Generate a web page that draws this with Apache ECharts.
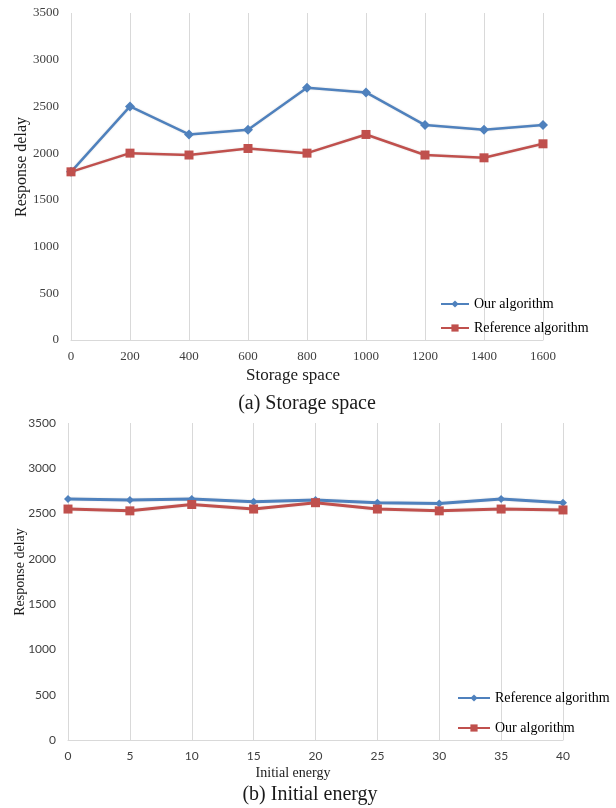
<!DOCTYPE html>
<html>
<head>
<meta charset="utf-8">
<script src="https://cdn.jsdelivr.net/npm/echarts@6/dist/echarts.min.js"></script>
<style>
  html, body { margin: 0; padding: 0; background: #fff; }
  #wrap { position: relative; width: 616px; height: 808px; }
  #chartA { position: absolute; left: 0; top: 0; width: 616px; height: 415px; }
  #chartB { position: absolute; left: 0; top: 415px; width: 616px; height: 393px; }
</style>
</head>
<body>
<div id="wrap">
  <div id="chartA"></div>
  <div id="chartB"></div>
</div>
<script>
// Panel (a): response delay versus storage space
const storageSpace = [0, 200, 400, 600, 800, 1000, 1200, 1400, 1600];
const ourDelayA = [1800, 2500, 2200, 2250, 2700, 2650, 2300, 2250, 2300];
const refDelayA = [1800, 2000, 1980, 2050, 2000, 2200, 1980, 1950, 2100];

// Panel (b): response delay versus initial energy
const initialEnergy = [0, 5, 10, 15, 20, 25, 30, 35, 40];
const refDelayB = [2660, 2650, 2660, 2630, 2650, 2620, 2610, 2660, 2620];
const ourDelayB = [2550, 2530, 2600, 2550, 2620, 2550, 2530, 2550, 2540];

const delayTicks = { min: 0, max: 3500, interval: 500 };

const BLUE = '#4F81BD';
const RED = '#C0504D';
const GRID = '#d9d9d9';
const SERIF = '"Liberation Serif", "Times New Roman", serif';
const SANS = 'Lato, "Liberation Sans", sans-serif';

// plain numbers, no thousands separators
const plain = v => String(v);

function pairs(xs, ys) { return xs.map((x, i) => [x, ys[i]]); }

function lineSeries(name, color, symbol, size, width, xs, ys) {
  return {
    type: 'line', name, data: pairs(xs, ys),
    symbol, symbolSize: size,
    itemStyle: { color },
    lineStyle: { color, width, shadowColor: 'rgba(0,0,0,0.15)', shadowBlur: 2 },
    emphasis: { disabled: true }, animation: false
  };
}

function axisText(text, x, y, size, rotate) {
  return {
    type: 'text', x, y, rotation: rotate ? Math.PI / 2 : 0,
    style: { text, fill: '#1a1a1a', font: size + 'px ' + SERIF, align: 'center', verticalAlign: 'middle' }
  };
}

// ---------- (a) ----------
const chartA = echarts.init(document.getElementById('chartA'), null, { renderer: 'canvas' });
chartA.setOption({
  animation: false,
  grid: { left: 71, top: 13, width: 472, height: 327 },
  xAxis: {
    type: 'value', min: 0, max: 1600, interval: 200,
    axisLine: { lineStyle: { color: GRID, width: 1 } },
    axisTick: { show: false },
    splitLine: { show: true, lineStyle: { color: GRID, width: 1 } },
    axisLabel: { margin: 10, color: '#404040', fontFamily: SERIF, fontSize: 13, formatter: plain }
  },
  yAxis: {
    type: 'value', min: delayTicks.min, max: delayTicks.max, interval: delayTicks.interval,
    axisLine: { show: false }, axisTick: { show: false }, splitLine: { show: false },
    axisLabel: { margin: 12, color: '#404040', fontFamily: SERIF, fontSize: 13, formatter: plain }
  },
  legend: {
    orient: 'vertical', left: 440, top: 297, padding: 0,
    itemWidth: 28, itemHeight: 9, itemGap: 10,
    textStyle: { color: '#000', fontFamily: SERIF, fontSize: 14 },
    data: ['Our algorithm', 'Reference algorithm']
  },
  series: [
    lineSeries('Our algorithm', BLUE, 'diamond', 10, 2.5, storageSpace, ourDelayA),
    lineSeries('Reference algorithm', RED, 'rect', 9, 2.5, storageSpace, refDelayA)
  ],
  graphic: [
    axisText('Response delay', 22, 167, 16, true),
    axisText('Storage space', 293, 376, 17, false),
    axisText('(a) Storage space', 307, 404, 20, false)
  ]
});

// ---------- (b) ----------
const chartB = echarts.init(document.getElementById('chartB'), null, { renderer: 'canvas' });
chartB.setOption({
  animation: false,
  grid: { left: 68, top: 8, width: 495, height: 317 },
  xAxis: {
    type: 'value', min: 0, max: 40, interval: 5,
    axisLine: { lineStyle: { color: GRID, width: 1 } },
    axisTick: { show: false },
    splitLine: { show: true, lineStyle: { color: GRID, width: 1 } },
    axisLabel: { margin: 10, color: '#404040', fontFamily: SANS, fontSize: 12, formatter: plain }
  },
  yAxis: {
    type: 'value', min: delayTicks.min, max: delayTicks.max, interval: delayTicks.interval,
    axisLine: { show: false }, axisTick: { show: false }, splitLine: { show: false },
    axisLabel: { margin: 12, color: '#404040', fontFamily: SANS, fontSize: 12, formatter: plain }
  },
  legend: {
    orient: 'vertical', left: 457, top: 276, padding: 0,
    itemWidth: 32, itemHeight: 9, itemGap: 16,
    textStyle: { color: '#000', fontFamily: SERIF, fontSize: 14 },
    data: ['Reference algorithm', 'Our algorithm']
  },
  series: [
    lineSeries('Reference algorithm', BLUE, 'diamond', 8, 3, initialEnergy, refDelayB),
    lineSeries('Our algorithm', RED, 'rect', 9, 3, initialEnergy, ourDelayB)
  ],
  graphic: [
    axisText('Response delay', 20, 157, 14, true),
    axisText('Initial energy', 293, 358, 14, false),
    axisText('(b) Initial energy', 310, 380, 20, false)
  ]
});
</script>
</body>
</html>
